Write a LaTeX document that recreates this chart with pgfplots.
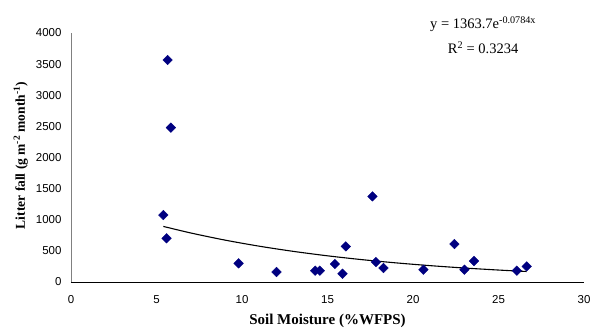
\documentclass[border=0pt]{standalone}
\usepackage{fontspec}
\setmainfont{Liberation Serif}
\setsansfont{Liberation Sans}
\usepackage{pgfplots}
\pgfplotsset{compat=1.18}
\definecolor{navy}{RGB}{0,0,128}
\begin{document}
\begin{tikzpicture}
\useasboundingbox (-71pt,-45pt) rectangle (520pt,282pt);
\begin{axis}[
  scale only axis, width=513pt, height=249pt,
  xmin=0, xmax=30, ymin=0, ymax=4000,
  axis x line*=bottom, axis y line*=left,
  x axis line style={black, line width=0.8pt, -},
  y axis line style={gray, line width=0.6pt, -},
  xtick={0,5,...,30}, ytick={0,500,...,4000},
  major tick length=0pt,
  tick label style={font=\sffamily\fontsize{11.5}{13}\selectfont},
  /pgf/number format/assume math mode=true,
  /pgf/number format/1000 sep={},
  scaled y ticks=false,
  xticklabel style={yshift=-10pt},
  yticklabel style={xshift=-6pt},
  xlabel={\textbf{Soil Moisture (\%WFPS)}},
  ylabel={\textbf{Litter fall (g m\textsuperscript{-2} month\textsuperscript{-1})}},
  xlabel style={font=\fontsize{15}{17}\selectfont, at={(axis description cs:0.5,0)}, anchor=base, yshift=-42pt},
  ylabel style={font=\fontsize{13.5}{16}\selectfont, at={(axis description cs:0,0.5)}, anchor=base, rotate=0, yshift=46pt, xshift=2pt},
  clip=false,
]
\addplot[only marks, mark=square*, mark size=3.4pt, color=navy, mark options={fill=navy, draw=navy, rotate=45}] coordinates {
(5.65,3566) (5.84,2479) (5.40,1076) (5.59,702) (9.80,300) (12.02,160)
(17.63,1375) (16.07,572) (14.28,182) (14.55,182) (15.43,289) (15.88,133)
(17.83,321) (18.27,225) (20.61,198) (22.42,610) (23.01,198) (23.57,337)
(26.07,182) (26.65,251)
};
\addplot[black, line width=1.1pt, smooth] coordinates {
(5.4,893) (7,787.8) (9,673.4) (11,575.7) (13,492.2) (15,420.7) (17,359.6)
(19,307.5) (21,262.9) (23,224.7) (25,192.1) (26.65,168.8)
};
\node[font=\fontsize{14.5}{16}\selectfont] at (axis cs:24.1,4140) {y = 1363.7e\textsuperscript{-0.0784x}};
\node[font=\fontsize{14.5}{16}\selectfont] at (axis cs:24.1,3760) {R\textsuperscript{2} = 0.3234};
\end{axis}
\end{tikzpicture}
\end{document}
